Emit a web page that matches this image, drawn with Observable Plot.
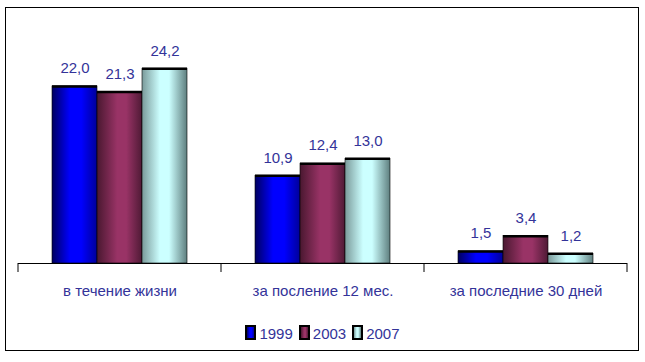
<!DOCTYPE html>
<html><head><meta charset="utf-8">
<script src="https://cdn.jsdelivr.net/npm/d3@7"></script>
<script src="https://cdn.jsdelivr.net/npm/@observablehq/plot@0.6"></script>
<style>
body{margin:0;background:#fff;}
#wrap{position:relative;width:645px;height:362px;font-family:"Liberation Sans",Arial,sans-serif;overflow:hidden;}
#border{position:absolute;left:5px;top:7px;width:634px;height:344px;border:1px solid #000;box-sizing:border-box;}
#chart{position:absolute;left:0;top:0;}
#legend{position:absolute;left:0;width:645px;top:325px;text-align:center;font-size:15px;color:#333399;line-height:18px;}
#legend .item{display:inline-block;margin:0 3px;}
#legend .sw{display:inline-block;width:7px;height:11px;border:2px solid #000;vertical-align:-1px;margin-right:3px;}
</style>
</head><body>
<div id="wrap"><div id="border"></div><div id="chart"></div><div id="legend"></div></div>
<script>
const categories = ["в течение жизни", "за послeние 12 мес.", "за последние 30 дней"];
const years = ["1999", "2003", "2007"];
const values1999 = [22.0, 10.9, 1.5];
const values2003 = [21.3, 12.4, 3.4];
const values2007 = [24.2, 13.0, 1.2];

const series = {"1999": values1999, "2003": values2003, "2007": values2007};
const rows = [];
categories.forEach((c, i) => years.forEach(y => rows.push({cat: c, year: y, value: series[y][i]})));

const grads = {
  "1999": [["0%","#000060"],["40%","#0000ff"],["65%","#0000ff"],["100%","#00009a"]],
  "2003": [["0%","#4a1830"],["45%","#993366"],["65%","#993366"],["100%","#4f1a35"]],
  "2007": [["0%","#7a9a9a"],["40%","#ccffff"],["60%","#ccffff"],["100%","#5f7f7f"]]
};

const plot = Plot.plot({
  width: 645,
  height: 362,
  marginLeft: 18,
  marginRight: 18,
  marginTop: 21.5,
  marginBottom: 99,
  style: {fontFamily: "'Liberation Sans', Arial, sans-serif", fontSize: "15px", background: "transparent"},
  fx: {domain: categories, padding: 0, label: null, tickSize: 0, tickPadding: 22, axis: "bottom"},
  x: {domain: years, axis: null, paddingInner: 0, paddingOuter: 0.73},
  y: {domain: [0, 30], axis: null},
  color: {type: "ordinal", domain: years, range: years.map(y => `url(#g${y})`)},
  marks: [
    Plot.barY(rows, {fx: "cat", x: "year", y: "value", fill: "year", stroke: "#000", strokeWidth: 0.6}),
    Plot.tickY(rows, {fx: "cat", x: "year", y: "value", stroke: "#000", strokeWidth: 2.5}),
    Plot.text(rows, {fx: "cat", x: "year", y: "value", text: d => d.value.toFixed(1).replace(".", ","), dy: -18, fill: "#333399", fontSize: 15}),
    Plot.ruleY([0], {stroke: "#000", strokeWidth: 1})
  ]
});

const svg = d3.select(plot);
svg.selectAll("g[aria-label='fx-axis tick label'] text, g[aria-label='fx-axis tick label']").attr("fill", "#333399");
const defs = svg.insert("defs", ":first-child");
years.forEach(y => {
  const g = defs.append("linearGradient").attr("id", "g" + y).attr("x1", "0").attr("x2", "1").attr("y1", "0").attr("y2", "0");
  grads[y].forEach(([o, c]) => g.append("stop").attr("offset", o).attr("stop-color", c));
});
// boundary ticks from the fx scale
const fx = plot.scale("fx");
const yS = plot.scale("y");
const y0 = yS.apply(0);
const bounds = categories.map(c => fx.apply(c));
bounds.push(fx.apply(categories[categories.length - 1]) + fx.bandwidth);
svg.append("g").selectAll("line").data(bounds).join("line")
  .attr("x1", d => d).attr("x2", d => d).attr("y1", y0).attr("y2", y0 + 9)
  .attr("stroke", "#000");

document.getElementById("chart").appendChild(plot);

const lg = document.getElementById("legend");
years.forEach(y => {
  const s = grads[y].map(([o, c]) => `${c} ${o}`).join(",");
  const it = document.createElement("span");
  it.className = "item";
  it.innerHTML = `<span class="sw" style="background:linear-gradient(to right,${s})"></span>${y}`;
  lg.appendChild(it);
});
</script>
</body></html>
